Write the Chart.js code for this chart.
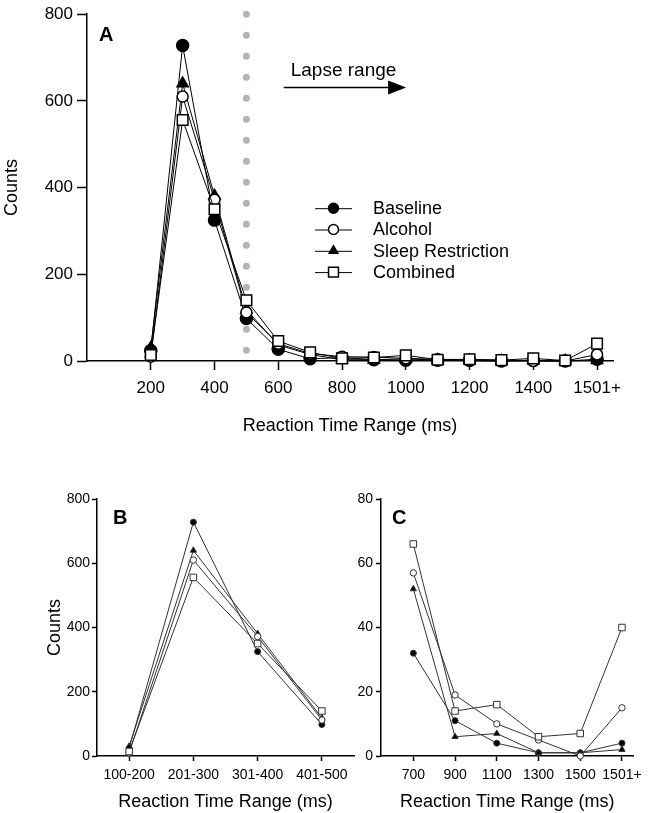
<!DOCTYPE html>
<html><head><meta charset="utf-8">
<script src="https://cdn.jsdelivr.net/npm/chart.js@4.4.1/dist/chart.umd.min.js"></script>
<style>
html,body{margin:0;padding:0;background:#fff;}
body{width:648px;height:813px;position:relative;overflow:hidden;}
.box{position:absolute;}
canvas{display:block;}
</style></head><body>
<div class="box" style="left:0;top:0;"><canvas id="cA" width="648" height="440"></canvas></div>
<div class="box" style="left:0;top:470px;"><canvas id="cB" width="360" height="343"></canvas></div>
<div class="box" style="left:330px;top:470px;"><canvas id="cC" width="318" height="343"></canvas></div>
<script>
// ---------------- DATA ----------------
const seriesNames = ['Baseline', 'Alcohol', 'Sleep Restriction', 'Combined'];

// Panel A: bins (1600 stands for "1501+")
const rtBinsA = [200, 300, 400, 500, 600, 700, 800, 900, 1000, 1100, 1200, 1300, 1400, 1500, 1600];
const baselineA = [24, 728, 325, 98, 27, 5, 8, 3, 2, 2, 1, 0, 1, 0, 4];
const alcoholA  = [10, 610, 372, 112, 40, 17, 10, 9, 6, 4, 3, 2, 0, 0, 15];
const sleepA    = [30, 640, 381, 118, 37, 15, 3, 3, 5, 2, 1, 0, 1, 0, 2];
const combinedA = [14, 556, 350, 140, 46, 20, 6, 8, 13, 3, 4, 2, 6, 1, 40];
const xTickValsA = [200, 400, 600, 800, 1000, 1200, 1400, 1600];
const xTickLabelsA = ['200', '400', '600', '800', '1000', '1200', '1400', '1501+'];
const lapseThreshold = 500;

// Panel B
const binsB = ['100-200', '201-300', '301-400', '401-500'];
const baselineB = [24, 728, 325, 98];
const alcoholB  = [10, 610, 372, 112];
const sleepB    = [30, 640, 381, 118];
const combinedB = [14, 556, 350, 140];

// Panel C (1700 stands for "1501+")
const binsC = [700, 900, 1100, 1300, 1500, 1700];
const xTickLabelsC = ['700', '900', '1100', '1300', '1500', '1501+'];
const baselineC = [32, 11, 4, 1, 1, 4];
const alcoholC  = [57, 19, 10, 5, 0, 15];
const sleepC    = [52, 6, 7, 1, 1, 2];
const combinedC = [66, 14, 16, 6, 7, 40];

// ---------------- STYLE ----------------
const FONT = '"Liberation Sans", Arial, Helvetica, sans-serif';
Chart.defaults.font.family = FONT;
Chart.defaults.color = '#000';

const markerStyles = [
  {pointStyle: 'circle',   fill: '#000', rBig: 6,   rSmall: 3,   order: 3},
  {pointStyle: 'circle',   fill: '#fff', rBig: 5.5, rSmall: 3.2, order: 1},
  {pointStyle: 'triangle', fill: '#000', rBig: 6.5, rSmall: 3.6, order: 2},
  {pointStyle: 'rect',     fill: '#fff', rBig: 7.5, rSmall: 4.6, order: 0}
];

function makeSets(xs, arrays, big, lineColor) {
  return arrays.map((arr, i) => {
    const s = markerStyles[i];
    return {
      label: seriesNames[i],
      data: xs ? arr.map((v, k) => ({x: xs[k], y: v})) : arr,
      borderColor: lineColor,
      borderWidth: 1,
      pointStyle: s.pointStyle,
      pointRadius: big ? s.rBig : s.rSmall,
      pointBackgroundColor: s.fill,
      pointBorderColor: lineColor,
      pointBorderWidth: big ? 1.5 : 1,
      tension: 0,
      clip: false,
      order: s.order
    };
  });
}

const panelLabel = {
  id: 'panelLabel',
  afterDraw(chart, args, opts) {
    const {ctx, chartArea} = chart;
    ctx.save();
    ctx.font = 'bold 20px ' + FONT;
    ctx.fillStyle = '#000';
    ctx.textBaseline = 'middle';
    ctx.textAlign = 'left';
    ctx.fillText(opts.text, chartArea.left + opts.dx, chartArea.top + opts.dy);
    ctx.restore();
  }
};

const lapseNote = {
  id: 'lapseNote',
  afterDraw(chart, args, opts) {
    const {ctx} = chart;
    const xs = chart.scales.x, ys = chart.scales.y;
    ctx.save();
    ctx.font = '19px ' + FONT;
    ctx.fillStyle = '#000';
    ctx.textBaseline = 'alphabetic';
    ctx.fillText(opts.text, xs.getPixelForValue(opts.textX), ys.getPixelForValue(opts.textY));
    const x0 = xs.getPixelForValue(opts.arrowFrom), x1 = xs.getPixelForValue(opts.arrowTo);
    const y = Math.round(ys.getPixelForValue(opts.arrowY)) + 0.5;
    ctx.strokeStyle = '#000';
    ctx.lineWidth = 1.3;
    ctx.beginPath(); ctx.moveTo(x0, y); ctx.lineTo(x1 - 14, y); ctx.stroke();
    ctx.beginPath(); ctx.moveTo(x1, y); ctx.lineTo(x1 - 18, y - 7); ctx.lineTo(x1 - 18, y + 7); ctx.closePath(); ctx.fill();
    ctx.restore();
  }
};

function drawMarker(ctx, style, x, y, r, fill) {
  ctx.beginPath();
  if (style === 'circle') {
    ctx.arc(x, y, r, 0, Math.PI * 2);
  } else if (style === 'rect') {
    const s = r * Math.SQRT1_2;
    ctx.rect(x - s, y - s, 2 * s, 2 * s);
  } else {
    for (let k = 0; k < 3; k++) {
      const a = k * 2 * Math.PI / 3;
      const px = x + Math.sin(a) * r, py = y - Math.cos(a) * r;
      if (k === 0) ctx.moveTo(px, py); else ctx.lineTo(px, py);
    }
    ctx.closePath();
  }
  ctx.fillStyle = fill;
  ctx.fill();
  ctx.stroke();
}

const innerLegend = {
  id: 'innerLegend',
  afterDraw(chart, args, opts) {
    const {ctx, chartArea} = chart;
    ctx.save();
    ctx.font = '18px ' + FONT;
    ctx.textBaseline = 'middle';
    seriesNames.forEach((name, i) => {
      const y = chartArea.top + opts.top + i * opts.rowGap;
      const x = chartArea.left + opts.left;
      ctx.strokeStyle = '#000';
      ctx.lineWidth = 1;
      ctx.beginPath(); ctx.moveTo(x, y + 0.5); ctx.lineTo(x + 37, y + 0.5); ctx.stroke();
      ctx.lineWidth = 1.5;
      const s = markerStyles[i];
      drawMarker(ctx, s.pointStyle, x + 18.5, y, s.pointStyle === 'rect' ? 7 : 5, s.fill);
      ctx.fillStyle = '#000';
      ctx.fillText(name, x + 58, y + 1);
    });
    ctx.restore();
  }
};

function axisCommon(fontSize, tickLen, tickPad, bw) {
  return {
    grid: {drawOnChartArea: false, drawTicks: true, tickLength: tickLen, tickColor: '#000', tickWidth: bw},
    border: {display: true, color: '#000', width: bw},
    ticks: {font: {size: fontSize}, padding: tickPad, color: '#000', maxRotation: 0, autoSkip: false}
  };
}

// ---------------- PANEL A ----------------
const setsA = makeSets(rtBinsA, [baselineA, alcoholA, sleepA, combinedA], true, '#000');
setsA.push({
  label: 'lapse threshold',
  data: [{x: lapseThreshold, y: 800}, {x: lapseThreshold, y: 0}],
  borderColor: '#b4b4b4', borderWidth: 7, borderDash: [0, 21], borderCapStyle: 'round',
  pointRadius: 0, clip: false, order: 10
});

const axAx = axisCommon(17, 9, 8, 1.5);
const axAy = axisCommon(17, 10, 4, 1.5);
new Chart(document.getElementById('cA'), {
  type: 'line',
  data: {datasets: setsA},
  options: {
    responsive: false, animation: false,
    layout: {padding: {top: 10, right: 35, left: 0, bottom: 0}},
    plugins: {
      legend: {display: false}, tooltip: {enabled: false},
      panelLabel: {text: 'A', dx: 12, dy: 21},
      lapseNote: {text: 'Lapse range', textX: 639, textY: 657, arrowFrom: 617, arrowTo: 1001, arrowY: 632},
      innerLegend: {left: 228, top: 194, rowGap: 21.3}
    },
    scales: {
      x: Object.assign(axAx, {
        type: 'linear', min: 0, max: 1650,
        afterBuildTicks: ax => { ax.ticks = xTickValsA.map(v => ({value: v})); },
        afterFit: ax => { ax.height = 79; },
        title: {display: true, text: 'Reaction Time Range (ms)', font: {size: 18}, color: '#000', padding: {top: 0, bottom: 3}}
      }),
      y: Object.assign(axAy, {
        min: 0, max: 800,
        afterFit: ax => { ax.width = 87; },
        title: {display: true, text: 'Counts', font: {size: 18}, color: '#000', padding: {top: 1, bottom: 0}}
      })
    }
  },
  plugins: [panelLabel, lapseNote, innerLegend]
});
Chart.getChart('cA').options.scales.x.ticks.callback = (v) => xTickLabelsA[xTickValsA.indexOf(v)];
Chart.getChart('cA').options.scales.y.ticks.stepSize = 200;
Chart.getChart('cA').update();

// ---------------- PANEL B ----------------
const axBx = axisCommon(14, 5, 6, 1.5);
const axBy = axisCommon(14, 5, 2, 1.5);
axBx.grid.offset = false;
axBy.ticks.stepSize = 200;
new Chart(document.getElementById('cB'), {
  type: 'line',
  data: {labels: binsB, datasets: makeSets(null, [baselineB, alcoholB, sleepB, combinedB], false, '#333')},
  options: {
    responsive: false, animation: false,
    layout: {padding: {top: 29, right: 6, left: 0, bottom: 0}},
    plugins: {legend: {display: false}, tooltip: {enabled: false}, panelLabel: {text: 'B', dx: 16, dy: 19}},
    scales: {
      x: Object.assign(axBx, {
        type: 'category', offset: true,
        afterFit: ax => { ax.height = 57; },
        title: {display: true, text: 'Reaction Time Range (ms)', font: {size: 18}, color: '#000', padding: {top: 0, bottom: 0}}
      }),
      y: Object.assign(axBy, {
        min: 0, max: 800,
        afterFit: ax => { ax.width = 97; },
        title: {display: true, text: 'Counts', font: {size: 18}, color: '#000', padding: {top: 44, bottom: 0}}
      })
    }
  },
  plugins: [panelLabel]
});

// ---------------- PANEL C ----------------
const axCx = axisCommon(14, 5, 6, 1.5);
const axCy = axisCommon(14, 5, 3, 1.5);
axCx.ticks.callback = (v) => xTickLabelsC[binsC.indexOf(v)];
axCy.ticks.stepSize = 20;
new Chart(document.getElementById('cC'), {
  type: 'line',
  data: {datasets: makeSets(binsC, [baselineC, alcoholC, sleepC, combinedC], false, '#333')},
  options: {
    responsive: false, animation: false,
    layout: {padding: {top: 29, right: 8, left: 0, bottom: 0}},
    plugins: {legend: {display: false}, tooltip: {enabled: false}, panelLabel: {text: 'C', dx: 11, dy: 19}},
    scales: {
      x: Object.assign(axCx, {
        type: 'linear', min: 545, max: 1755,
        afterBuildTicks: ax => { ax.ticks = binsC.map(v => ({value: v})); },
        afterFit: ax => { ax.height = 57; },
        title: {display: true, text: 'Reaction Time Range (ms)', font: {size: 18}, color: '#000', padding: {top: 0, bottom: 0}}
      }),
      y: Object.assign(axCy, {
        min: 0, max: 80,
        afterFit: ax => { ax.width = 51; }
      })
    }
  },
  plugins: [panelLabel]
});
</script>
</body></html>
